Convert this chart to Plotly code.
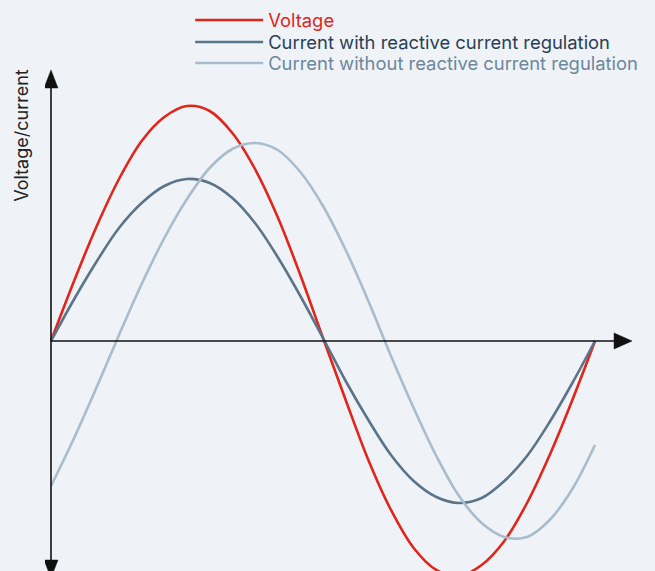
import plotly.graph_objects as go

# Phase angle (degrees) over one period
angle_deg = [0, 15, 30, 45, 60, 75, 90, 105, 120, 135, 150, 165, 180,
             195, 210, 225, 240, 255, 270, 285, 300, 315, 330, 345, 360]

voltage = [0, 59, 114, 162, 200, 224, 235, 230, 208, 172, 124, 66, 3,
           -59, -119, -169, -207, -229, -235, -224, -200, -162, -114, -59, 0]

current_with_reg = [0, 41, 79, 113, 138, 155, 162, 158, 143, 118, 84, 45, 3,
                    -40, -79, -114, -140, -156, -162, -157, -140, -115, -81, -42, 0]

current_without_reg = [-145, -98, -47, 6, 57, 103, 142, 173, 192, 198, 191, 169, 135,
                       91, 40, -15, -67, -115, -155, -182, -196, -196, -179, -148, -104]

series_names = ["Voltage",
                "Current with reactive current regulation",
                "Current without reactive current regulation"]
line_colors = ["#e1251b", "#5b7489", "#a9bccb"]
text_colors = ["#e1251b", "#2a3f57", "#6c869c"]
y_title = "Voltage/current"

BG = "#eff3f7"
FONT = "Inter, Open Sans, sans-serif"
legend_ids = ["legend", "legend2", "legend3"]

fig = go.Figure()
for name, ys, lc, tc, lg in zip(series_names,
                                [voltage, current_with_reg, current_without_reg],
                                line_colors, text_colors, legend_ids):
    fig.add_trace(go.Scatter(
        x=angle_deg, y=ys, mode="lines",
        line=dict(color=lc, width=2.6, shape="spline", smoothing=1.0),
        name=name, legend=lg,
        hoverinfo="skip",
    ))

axis_col = "#111111"
shapes = [
    # x axis line + arrow
    dict(type="line", xref="x", yref="y", x0=0, y0=0, x1=374, y1=0,
         line=dict(color=axis_col, width=1.6)),
    dict(type="path", xref="x", yref="y",
         path="M 372.6,8 L 384.5,0 L 372.6,-8 Z",
         fillcolor=axis_col, line=dict(color=axis_col, width=0.5)),
    # y axis line + arrows
    dict(type="line", xref="x", yref="y", x0=0, y0=-225, x1=0, y1=256,
         line=dict(color=axis_col, width=1.6)),
    dict(type="path", xref="x", yref="y",
         path="M -4.6,253 L 0,271 L 4.6,253 Z",
         fillcolor=axis_col, line=dict(color=axis_col, width=0.5)),
    dict(type="path", xref="x", yref="y",
         path="M -4.6,-219 L 0,-237 L 4.6,-219 Z",
         fillcolor=axis_col, line=dict(color=axis_col, width=0.5)),
]

legend_rows_y = [0.965, 0.9264, 0.8897]
legend_layouts = {}
for lg, yv, tc in zip(legend_ids, legend_rows_y, text_colors):
    legend_layouts[lg] = dict(x=0.238, y=yv, xanchor="left", yanchor="middle",
                              bgcolor="rgba(0,0,0,0)", borderwidth=0,
                              font=dict(family=FONT, size=18.4, color=tc),
                              itemwidth=68)

fig.update_layout(
    width=655, height=571,
    paper_bgcolor=BG, plot_bgcolor=BG,
    margin=dict(l=45, r=0, t=0, b=0),
    font=dict(family=FONT, size=18, color="#2a3f57"),
    xaxis=dict(range=[-3.97, 399.7], visible=False, fixedrange=True),
    yaxis=dict(range=[-230, 341], visible=False, fixedrange=True),
    shapes=shapes,
    showlegend=True,
    annotations=[dict(text=y_title, xref="paper", yref="paper",
                      x=-0.038, y=0.7636, textangle=-90, showarrow=False,
                      font=dict(family=FONT, size=18, color="#222222"),
                      xanchor="center", yanchor="middle")],
    **legend_layouts,
)

fig.write_html("out.html",
               config={"displayModeBar": False},
               post_script="document.body.style.margin='0';document.body.style.background='#eff3f7';")
